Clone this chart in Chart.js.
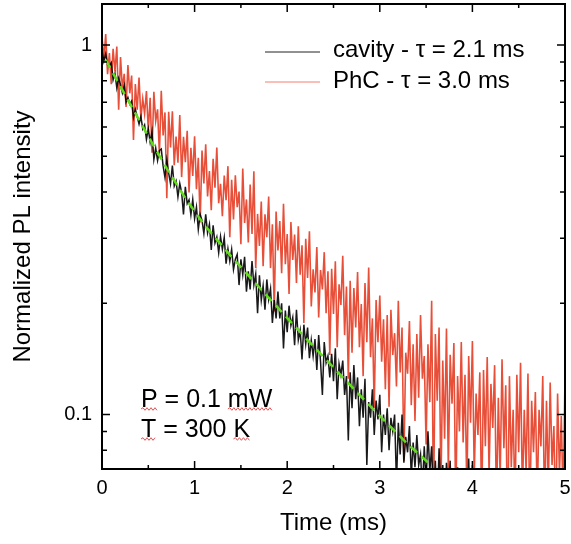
<!DOCTYPE html>
<html>
<head>
<meta charset="utf-8">
<script src="https://cdn.jsdelivr.net/npm/chart.js@4/dist/chart.umd.min.js"></script>
<style>
  html, body { margin: 0; padding: 0; background: #fff; }
  canvas { display: block; }
</style>
</head>
<body>
<canvas id="decayChart" width="571" height="544"></canvas>
<script>
// traces are sampled every dt ms starting at t = 0
const dt = 0.02;

// cavity trace (black)
const cavityI = [
  0.965,0.903,0.947,0.883,0.878, 0.896,0.805,0.838,0.765,0.813,
  0.781,0.742,0.778,0.701,0.721, 0.692,0.705,0.637,0.670,0.640,
  0.611,0.640,0.593,0.608,0.555, 0.593,0.546,0.583,0.490,0.526,
  0.487,0.518,0.523,0.470,0.438, 0.489,0.450,0.421,0.472,0.415,
  0.428,0.388,0.422,0.399,0.348, 0.413,0.372,0.381,0.347,0.382,
  0.339,0.364,0.317,0.348,0.335, 0.309,0.348,0.310,0.327,0.279,
  0.325,0.291,0.302,0.274,0.303, 0.280,0.301,0.256,0.281,0.260,
  0.280,0.247,0.263,0.271,0.224, 0.263,0.239,0.267,0.215,0.244,
  0.218,0.260,0.224,0.240,0.188, 0.238,0.204,0.223,0.192,0.232,
  0.205,0.219,0.177,0.204,0.182, 0.215,0.182,0.200,0.151,0.191,
  0.167,0.197,0.174,0.183,0.154, 0.192,0.159,0.169,0.141,0.175,
  0.155,0.172,0.142,0.159,0.144, 0.160,0.132,0.164,0.139,0.113,
  0.157,0.138,0.144,0.126,0.146, 0.123,0.151,0.110,0.137,0.128,
  0.140,0.113,0.127,0.085,0.130, 0.104,0.136,0.110,0.126,0.093,
  0.117,0.098,0.125,0.073,0.108, 0.098,0.117,0.088,0.109,0.097,
  0.113,0.079,0.100,0.088,0.104, 0.080,0.098,0.090,0.100,0.065,
  0.095,0.078,0.100,0.074,0.087, 0.079,0.093,0.068,0.084,0.072,
  0.088,0.073,0.078,0.062,0.082, 0.065,0.090,0.070,0.082,0.057,
  0.075,0.055,0.081,0.061,0.073, 0.054,0.074,0.060,0.075,0.048,
  0.066,0.052,0.072,0.047,0.060, 0.050,0.065,0.046,0.076,0.049,
  0.073,0.044,0.053,0.038,0.053, 0.042,0.050,0.036,0.047,0.040,0.044
];

// photonic crystal trace (red)
const phcI = [
  1.056,0.913,1.070,0.834,0.951, 0.783,0.977,0.848,0.991,0.668,
  0.927,0.764,0.836,0.680,0.883, 0.740,0.827,0.553,0.784,0.668,
  0.817,0.633,0.715,0.652,0.750, 0.586,0.720,0.511,0.747,0.623,
  0.670,0.506,0.752,0.569,0.657, 0.385,0.660,0.528,0.662,0.473,
  0.565,0.480,0.646,0.439,0.564, 0.482,0.586,0.399,0.527,0.442,
  0.566,0.407,0.495,0.331,0.518, 0.422,0.539,0.389,0.456,0.357,
  0.492,0.411,0.528,0.373,0.421, 0.344,0.443,0.380,0.470,0.302,
  0.432,0.337,0.444,0.364,0.401, 0.289,0.463,0.330,0.382,0.292,
  0.419,0.308,0.455,0.249,0.349, 0.286,0.377,0.252,0.348,0.302,
  0.389,0.249,0.327,0.190,0.354, 0.278,0.334,0.241,0.372,0.255,
  0.308,0.212,0.332,0.262,0.307, 0.227,0.323,0.239,0.287,0.177,
  0.299,0.234,0.313,0.196,0.247, 0.214,0.284,0.183,0.246,0.218,
  0.275,0.188,0.244,0.145,0.248, 0.187,0.260,0.152,0.225,0.198,
  0.269,0.164,0.222,0.125,0.230, 0.147,0.220,0.172,0.243,0.152,
  0.199,0.127,0.227,0.157,0.250, 0.143,0.182,0.104,0.204,0.157,
  0.210,0.139,0.181,0.117,0.186, 0.105,0.192,0.145,0.166,0.119,
  0.203,0.130,0.172,0.075,0.147, 0.129,0.179,0.106,0.155,0.096,
  0.165,0.111,0.186,0.125,0.144, 0.083,0.155,0.108,0.203,0.055,
  0.165,0.109,0.172,0.063,0.140, 0.086,0.171,0.071,0.145,0.107,
  0.156,0.055,0.127,0.090,0.157, 0.084,0.128,0.061,0.144,0.095,
  0.158,0.068,0.114,0.088,0.130, 0.054,0.132,0.082,0.143,0.069,
  0.121,0.092,0.136,0.055,0.111, 0.067,0.141,0.081,0.120,0.046,
  0.127,0.072,0.103,0.056,0.128, 0.079,0.138,0.060,0.103,0.070,
  0.129,0.051,0.109,0.079,0.115, 0.058,0.103,0.082,0.127,0.053,
  0.109,0.063,0.122,0.073,0.093, 0.049,0.114,0.069,0.099,0.058,
  0.126
];

// dashed fit through the cavity trace
const fitT = [0.04, 0.3, 0.5, 0.7, 0.9, 1.1, 1.4, 1.8, 2.2, 2.6, 3.0, 3.3, 3.52];
const fitI = [0.911, 0.695, 0.566, 0.463, 0.385, 0.327, 0.267, 0.207, 0.161, 0.126, 0.0991, 0.0832, 0.0742];

const xTicks = [0, 1, 2, 3, 4, 5];
const xMinorTicks = [0.5, 1.5, 2.5, 3.5, 4.5];
const yTicks = [0.1, 1];
const yMinorTicks = [0.08, 0.09, 0.2, 0.3, 0.4, 0.5, 0.6, 0.7, 0.8, 0.9];

const legendLabels = ["cavity - \u03c4 = 2.1 ms", "PhC - \u03c4 = 3.0 ms"];

const FONT = '"Liberation Sans", Arial, sans-serif';

const toPts = arr => arr.map((v, i) => ({x: i * dt, y: v}));

// red wavy underline like a spell-checker mark
function squiggle(ctx, x0, x1, y) {
  ctx.beginPath();
  let up = true;
  ctx.moveTo(x0, y);
  for (let x = x0 + 2; x <= x1; x += 2) {
    ctx.lineTo(x, up ? y - 1.3 : y + 1.3);
    up = !up;
  }
  ctx.stroke();
}

const frame = {
  id: "frame",
  afterDraw(chart) {
    const {ctx, chartArea: a, scales: {x, y}} = chart;
    ctx.save();
    ctx.strokeStyle = "#000";
    ctx.lineWidth = 1.5;
    ctx.beginPath();
    xTicks.concat(xMinorTicks).forEach(v => {
      const px = x.getPixelForValue(v);
      const len = xTicks.includes(v) ? 8 : 4;
      ctx.moveTo(px, a.bottom); ctx.lineTo(px, a.bottom - len);
      ctx.moveTo(px, a.top); ctx.lineTo(px, a.top + len);
    });
    yTicks.concat(yMinorTicks).forEach(v => {
      const py = y.getPixelForValue(v);
      const len = yTicks.includes(v) ? 8 : 5;
      ctx.moveTo(a.left, py); ctx.lineTo(a.left + len, py);
      ctx.moveTo(a.right, py); ctx.lineTo(a.right - len, py);
    });
    ctx.stroke();
    ctx.lineWidth = 2;
    ctx.strokeRect(a.left, a.top, a.right - a.left, a.bottom - a.top);

    // legend
    ctx.lineWidth = 1;
    ctx.strokeStyle = "#222";
    ctx.beginPath(); ctx.moveTo(265, 52); ctx.lineTo(320, 52); ctx.stroke();
    ctx.strokeStyle = "#f08070";
    ctx.beginPath(); ctx.moveTo(265, 82); ctx.lineTo(320, 82); ctx.stroke();
    ctx.fillStyle = "#000";
    ctx.font = "24px " + FONT;
    ctx.textBaseline = "alphabetic";
    ctx.textAlign = "left";
    ctx.fillText(legendLabels[0], 333, 57);
    ctx.fillText(legendLabels[1], 333, 88);

    // measurement conditions
    ctx.font = "25px " + FONT;
    ctx.fillText("P = 0.1 mW", 141, 407);
    ctx.fillText("T = 300 K", 141, 437);
    ctx.strokeStyle = "#e05555";
    ctx.lineWidth = 1;
    const wP = ctx.measureText("P").width;
    const wPre = ctx.measureText("P = 0.1 ").width;
    const wmW = ctx.measureText("mW").width;
    const wT = ctx.measureText("T").width;
    const wPreK = ctx.measureText("T = 300 ").width;
    const wK = ctx.measureText("K").width;
    squiggle(ctx, 141, 141 + wP, 409);
    squiggle(ctx, 141 + wPre, 141 + wPre + wmW, 409);
    squiggle(ctx, 141, 141 + wT, 439);
    squiggle(ctx, 141 + wPreK, 141 + wPreK + wK, 439);
    ctx.restore();
  }
};

new Chart(document.getElementById("decayChart"), {
  type: "line",
  data: {
    datasets: [
      {
        data: fitT.map((t, i) => ({x: t, y: fitI[i]})),
        borderColor: "#62dc1c",
        borderWidth: 2.5,
        borderDash: [9, 6],
        pointRadius: 0
      },
      {
        data: toPts(cavityI),
        borderColor: "rgba(0,0,0,0.9)",
        borderWidth: 1.5,
        pointRadius: 0
      },
      {
        data: toPts(phcI),
        borderColor: "rgba(230,60,36,0.9)",
        borderWidth: 1.6,
        pointRadius: 0
      }
    ]
  },
  options: {
    responsive: false,
    animation: false,
    devicePixelRatio: 1,
    layout: { padding: { top: 4, right: 6, left: 0, bottom: 0 } },
    plugins: { legend: { display: false }, tooltip: { enabled: false } },
    elements: { line: { tension: 0 } },
    scales: {
      x: {
        type: "linear",
        min: 0, max: 5,
        afterBuildTicks: s => { s.ticks = xTicks.map(v => ({value: v})); },
        afterFit: s => { s.height = 75; s.paddingLeft = 0; s.paddingRight = 0; },
        grid: { display: false, drawTicks: false },
        border: { display: false },
        ticks: { color: "#000", font: { family: FONT, size: 20 }, padding: 7, autoSkip: false, maxRotation: 0 },
        title: { display: true, text: "Time (ms)", color: "#000", font: { family: FONT, size: 24 }, padding: { bottom: 6 } }
      },
      y: {
        type: "logarithmic",
        min: 0.0712, max: 1.291,
        afterBuildTicks: s => { s.ticks = yTicks.map(v => ({value: v})); },
        afterFit: s => { s.width = 102; s.paddingTop = 0; s.paddingBottom = 0; },
        grid: { display: false, drawTicks: false },
        border: { display: false },
        ticks: { color: "#000", font: { family: FONT, size: 20 }, padding: 10, autoSkip: false,
          callback: v => String(v) },
        title: { display: true, text: "Normalized PL intensity", color: "#000", font: { family: FONT, size: 24 }, padding: { top: 9 } }
      }
    }
  },
  plugins: [frame]
});
</script>
</body>
</html>
